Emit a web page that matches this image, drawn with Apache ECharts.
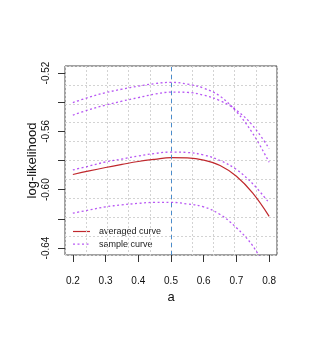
<!DOCTYPE html>
<html><head><meta charset="utf-8">
<script src="https://cdn.jsdelivr.net/npm/echarts@6/dist/echarts.min.js"></script>
<style>html,body{margin:0;padding:0;background:#fff}#c{width:311px;height:338px}</style>
</head><body><div id="c"></div>
<script>
// x values (a)
const aValues = [0.2, 0.25, 0.3, 0.35, 0.4, 0.45, 0.5, 0.55, 0.6, 0.65, 0.7, 0.75, 0.8];
// averaged curve
const averagedCurve = [-0.5896, -0.5871, -0.5848, -0.5827, -0.5807, -0.5792, -0.5780, -0.5782, -0.5797, -0.5834, -0.5908, -0.6024, -0.6183];
// sample curves
const sampleCurve1 = [-0.5403, -0.5366, -0.5335, -0.5311, -0.5290, -0.5273, -0.5264, -0.5276, -0.5304, -0.5359, -0.5465, -0.5615, -0.5812];
const sampleCurve2 = [-0.5489, -0.5451, -0.5420, -0.5393, -0.5369, -0.5345, -0.5331, -0.5333, -0.5352, -0.5390, -0.5455, -0.5561, -0.5718];
const sampleCurve3 = [-0.5865, -0.5838, -0.5810, -0.5790, -0.5769, -0.5752, -0.5742, -0.5745, -0.5762, -0.5800, -0.5862, -0.5960, -0.6091];
const sampleCurve4 = [-0.6161, -0.6139, -0.6118, -0.6104, -0.6094, -0.6087, -0.6087, -0.6098, -0.6118, -0.6170, -0.6261, -0.6386, -0.6580];
// ticks
const xTicks = [0.2, 0.3, 0.4, 0.5, 0.6, 0.7, 0.8];
const yTicks = [-0.64, -0.62, -0.60, -0.58, -0.56, -0.54, -0.52];
const yTickLabels = [-0.64, -0.60, -0.56, -0.52];
const refA = 0.5;
const legendNames = ['averaged curve', 'sample curve'];

const FONT = 'Liberation Sans, Arial, Helvetica, sans-serif';
const RED = '#c0282d';
const PURPLE = '#a020f0';
const pairs = arr => aValues.map((a, i) => [a, arr[i]]);
const samples = [sampleCurve1, sampleCurve2, sampleCurve3, sampleCurve4];

const chart = echarts.init(document.getElementById('c'), null, {renderer: 'canvas'});
const sampleStyle = {color: PURPLE, width: 1.3, type: [2, 2.5], opacity: 0.75};
const series = [];
samples.forEach((s) => {
  series.push({
    name: legendNames[1], type: 'line', data: pairs(s), xAxisIndex: 0, yAxisIndex: 0,
    symbol: 'none', smooth: 0.4, clip: true, silent: true,
    lineStyle: sampleStyle, itemStyle: {color: PURPLE}, z: 3
  });
});
series.unshift({
  name: legendNames[0], type: 'line', data: pairs(averagedCurve), xAxisIndex: 0, yAxisIndex: 0,
  symbol: 'none', smooth: 0.4, clip: true, silent: true,
  lineStyle: {color: RED, width: 1.2}, itemStyle: {color: RED}, z: 4,
  markLine: {
    silent: true, symbol: 'none', label: {show: false},
    lineStyle: {color: '#4a8ccc', type: [4, 4], width: 1, opacity: 1},
    emphasis: {disabled: true},
    data: [{xAxis: refA, lineStyle: {color: '#4a8ccc'}}]
  }
});

// legend (R style, no box)
const lgX = 73, lgY = 231.5, lgGap = 12.6;
const graphic = [];
legendNames.forEach((nm, i) => {
  const y = lgY + i * lgGap;
  graphic.push({type: 'line', shape: {x1: lgX, y1: y, x2: lgX + 17, y2: y}, silent: true,
    style: i === 0 ? {stroke: RED, lineWidth: 1.2} : {stroke: PURPLE, lineWidth: 1.3, lineDash: [2, 2.5], opacity: 0.75}});
  graphic.push({type: 'text', x: lgX + 26, y: y, silent: true,
    style: {text: nm, font: '9px ' + FONT, fill: '#222', textVerticalAlign: 'middle', verticalAlign: 'middle'}});
});

chart.setOption({
  animation: false,
  textStyle: {fontFamily: FONT},
  grid: [{left: 65, top: 66, width: 212, height: 189, show: true, borderColor: '#444', borderWidth: 1, backgroundColor: 'transparent'}],
  xAxis: [
    {type: 'value', gridIndex: 0, min: 0.176, max: 0.824,
     axisLine: {show: false},
     axisTick: {show: true, inside: false, length: 7, customValues: xTicks, lineStyle: {color: '#333'}},
     axisLabel: {show: true, customValues: xTicks, margin: 21, fontSize: 10, color: '#111', fontFamily: FONT,
       formatter: v => v.toFixed(1)},
     splitLine: {show: false},
     name: 'a', nameLocation: 'middle', nameGap: 36, nameMoveOverlap: false,
     nameTextStyle: {fontSize: 13, color: '#111', fontFamily: FONT}
    },
    {type: 'value', gridIndex: 0, position: 'top', min: 0, max: 10, interval: 1,
     axisLine: {show: false}, axisTick: {show: false}, axisLabel: {show: false},
     splitLine: {show: true, lineStyle: {color: '#d3d3d3', type: [2, 2], width: 1}}
    }
  ],
  yAxis: [
    {type: 'value', gridIndex: 0, min: -0.6448, max: -0.5152,
     axisLine: {show: false},
     axisTick: {show: true, inside: false, length: 7, customValues: yTicks, lineStyle: {color: '#333'}},
     axisLabel: {show: true, customValues: yTickLabels, rotate: 90, margin: 14, fontSize: 10, color: '#111', fontFamily: FONT,
       formatter: v => v.toFixed(2)},
     splitLine: {show: false},
     name: 'log-likelihood', nameLocation: 'middle', nameGap: 26, nameMoveOverlap: false,
     nameTextStyle: {fontSize: 13, color: '#111', fontFamily: FONT}
    },
    {type: 'value', gridIndex: 0, position: 'right', min: 0, max: 10, interval: 1,
     axisLine: {show: false}, axisTick: {show: false}, axisLabel: {show: false},
     splitLine: {show: true, lineStyle: {color: '#d3d3d3', type: [2, 2], width: 1}}
    }
  ],
  graphic: graphic,
  series: series
});
</script>
</body></html>
